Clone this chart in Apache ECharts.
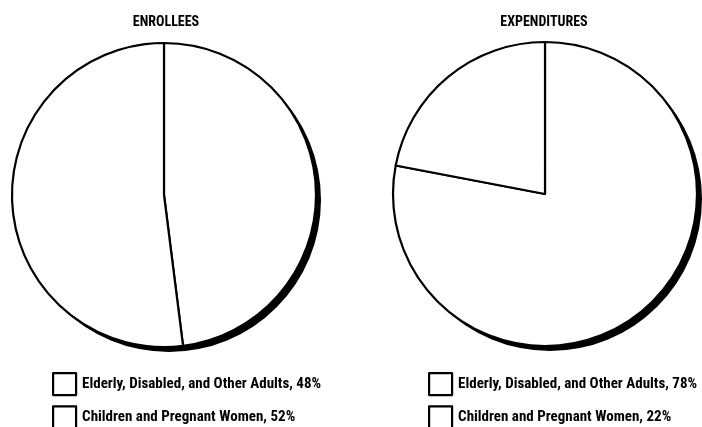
<!DOCTYPE html>
<html>
<head>
<meta charset="utf-8">
<script src="https://cdn.jsdelivr.net/npm/echarts@6/dist/echarts.min.js"></script>
<style>
  html, body { margin: 0; padding: 0; background: #fff; }
  #chart { width: 702px; height: 427px; }
</style>
</head>
<body>
<div id="chart"></div>
<script>
// Group names and percentage shares for the two pies
const groups = ['Elderly, Disabled, and Other Adults', 'Children and Pregnant Women'];
const enrollees = [48, 52];
const expenditures = [78, 22];
const titles = ['ENROLLEES', 'EXPENDITURES'];

const FONT = '"Roboto Condensed", "Open Sans", sans-serif';
const R = 152;
const centers = [[164, 195], [545, 194]];
const SHADOW = 5;

function pieData(values) {
  return groups.map((g, i) => ({ name: g, value: values[i] }));
}

// White wedges with black outlines
function outlinePie(values, center) {
  return {
    type: 'pie',
    center: center,
    radius: [0, R],
    startAngle: 90,
    clockwise: true,
    silent: true,
    z: 3,
    label: { show: false },
    labelLine: { show: false },
    emphasis: { disabled: true },
    itemStyle: { color: '#fff', borderColor: '#000', borderWidth: 2.2 },
    data: pieData(values)
  };
}

// Solid black disc offset down-right, peeking out as a drop shadow
function shadowPie(center) {
  return {
    type: 'pie',
    center: [center[0] + SHADOW, center[1] + SHADOW],
    radius: [0, R],
    silent: true,
    z: 1,
    label: { show: false },
    labelLine: { show: false },
    emphasis: { disabled: true },
    itemStyle: { color: '#000', borderWidth: 0 },
    data: [{ name: 'shadow', value: 1 }]
  };
}

function legendFor(values, left) {
  return {
    orient: 'vertical',
    left: left,
    top: 372,
    height: 70,
    padding: 0,
    itemWidth: 23,
    itemHeight: 22,
    itemGap: 9,
    icon: 'rect',
    selectedMode: false,
    data: groups,
    itemStyle: { color: '#fff', borderColor: '#000', borderWidth: 2.2 },
    textStyle: { fontFamily: FONT, fontWeight: 'bold', fontSize: 15, color: '#000', padding: [1, 0, 0, 1] },
    formatter: name => name + ', ' + values[groups.indexOf(name)] + '%'
  };
}

const chart = echarts.init(document.getElementById('chart'), null, { renderer: 'canvas' });
chart.setOption({
  animation: false,
  backgroundColor: '#fff',
  title: titles.map((t, i) => ({
    text: t,
    left: [166, 544][i],
    top: 15,
    padding: 0,
    textAlign: 'center',
    textStyle: { fontFamily: FONT, fontWeight: 'bold', fontSize: 14, color: '#000' }
  })),
  legend: [legendFor(enrollees, 52), legendFor(expenditures, 428)],
  series: [
    shadowPie(centers[0]),
    shadowPie(centers[1]),
    outlinePie(enrollees, centers[0]),
    outlinePie(expenditures, centers[1])
  ]
});
</script>
</body>
</html>
